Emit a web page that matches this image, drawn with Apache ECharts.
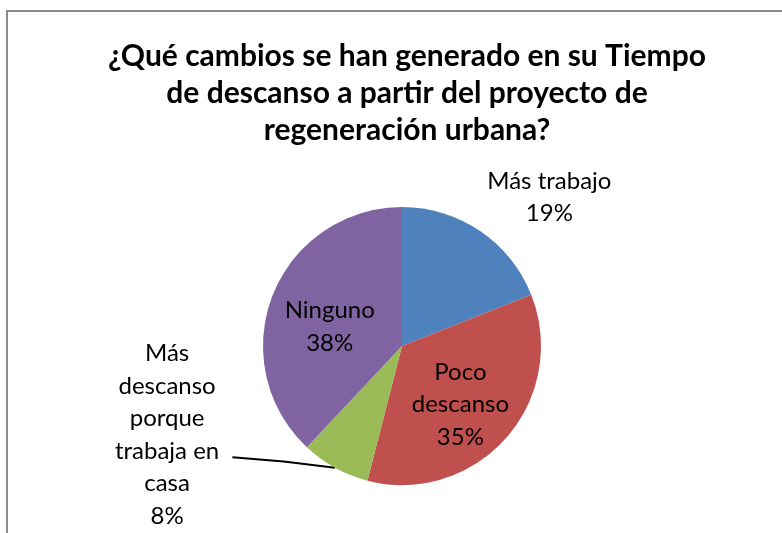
<!DOCTYPE html>
<html>
<head>
<meta charset="utf-8">
<script src="https://cdn.jsdelivr.net/npm/echarts@6/dist/echarts.min.js"></script>
<style>
html,body{margin:0;padding:0;background:#fff;}
#main{width:782px;height:533px;}
</style>
</head>
<body>
<div id="main"></div>
<script>
// ---- data ----
const titleText = '¿Qué cambios se han generado en su Tiempo\nde descanso a partir del proyecto de\nregeneración urbana?';
const categories = ['Más trabajo', 'Poco descanso', 'Más descanso porque trabaja en casa', 'Ninguno'];
const labelNames = ['Más trabajo', 'Poco\ndescanso', 'Más\ndescanso\nporque\ntrabaja en\ncasa', 'Ninguno'];
const values = [19, 35, 8, 38];
const colors = ['#4F81BD', '#C0504D', '#9BBB59', '#8064A2'];

// ---- layout ----
const CX = 402, CY = 346, R = 139;
// label centre offsets relative to pie centre, in units of radius
const labelPos = [
  [1.06, -1.07],
  [0.42, 0.42],
  [-1.69, 0.64],
  [-0.52, -0.14]
];
const labelPlacement = ['outside', 'inside', 'outside', 'inside'];
// leader line end (for the small slice), relative to centre in radius units
const leaderEnd = [-1.22, 0.80];

const FONT = 'Lato, "Open Sans", sans-serif';

const total = values.reduce((a, b) => a + b, 0);
function midAngleDeg(i) {
  let acc = 0;
  for (let k = 0; k < i; k++) acc += values[k];
  return (acc + values[i] / 2) / total * 360; // clockwise from top
}

const chart = echarts.init(document.getElementById('main'), null, {renderer: 'canvas'});
const data = categories.map((c, i) => ({
  name: c,
  value: values[i],
  itemStyle: {color: colors[i]},
  label: {position: labelPlacement[i]},
  labelLine: {show: i === 2}
}));

chart.setOption({
  animation: false,
  backgroundColor: '#ffffff',
  graphic: [{
    type: 'rect',
    shape: {x: 7, y: 11, width: 900, height: 700},
    style: {fill: null, stroke: '#8a8a8a', lineWidth: 2},
    silent: true
  }],
  title: {
    text: titleText,
    left: CX,
    top: 33,
    textAlign: 'center',
    textStyle: {
      fontFamily: FONT,
      fontWeight: 'bold',
      fontSize: 30,
      lineHeight: 37,
      color: '#000'
    }
  },
  series: [{
    type: 'pie',
    center: [CX, CY],
    radius: [0, R],
    startAngle: 90,
    clockwise: true,
    avoidLabelOverlap: false,
    itemStyle: {borderWidth: 0},
    emphasis: {disabled: true},
    label: {
      show: true,
      fontFamily: FONT,
      fontSize: 24,
      lineHeight: 32.5,
      color: '#000',
      align: 'center',
      formatter: p => labelNames[p.dataIndex] + '\n' + p.value + '%'
    },
    labelLine: {
      show: false,
      length: 6,
      length2: 90,
      smooth: false,
      lineStyle: {color: '#000', width: 2}
    },
    labelLayout: p => {
      const i = p.dataIndex;
      const out = {
        x: CX + labelPos[i][0] * R,
        y: CY + labelPos[i][1] * R,
        align: 'center',
        verticalAlign: 'middle'
      };
      if (i === 2) {
        const a = midAngleDeg(i) * Math.PI / 180;
        const sx = CX + Math.sin(a) * R, sy = CY - Math.cos(a) * R;
        const ex = CX + leaderEnd[0] * R, ey = CY + leaderEnd[1] * R;
        out.labelLinePoints = [[sx, sy], [(sx + ex) / 2, (sy + ey) / 2 - 1], [ex, ey]];
      }
      return out;
    },
    data: data
  }]
});
</script>
</body>
</html>
